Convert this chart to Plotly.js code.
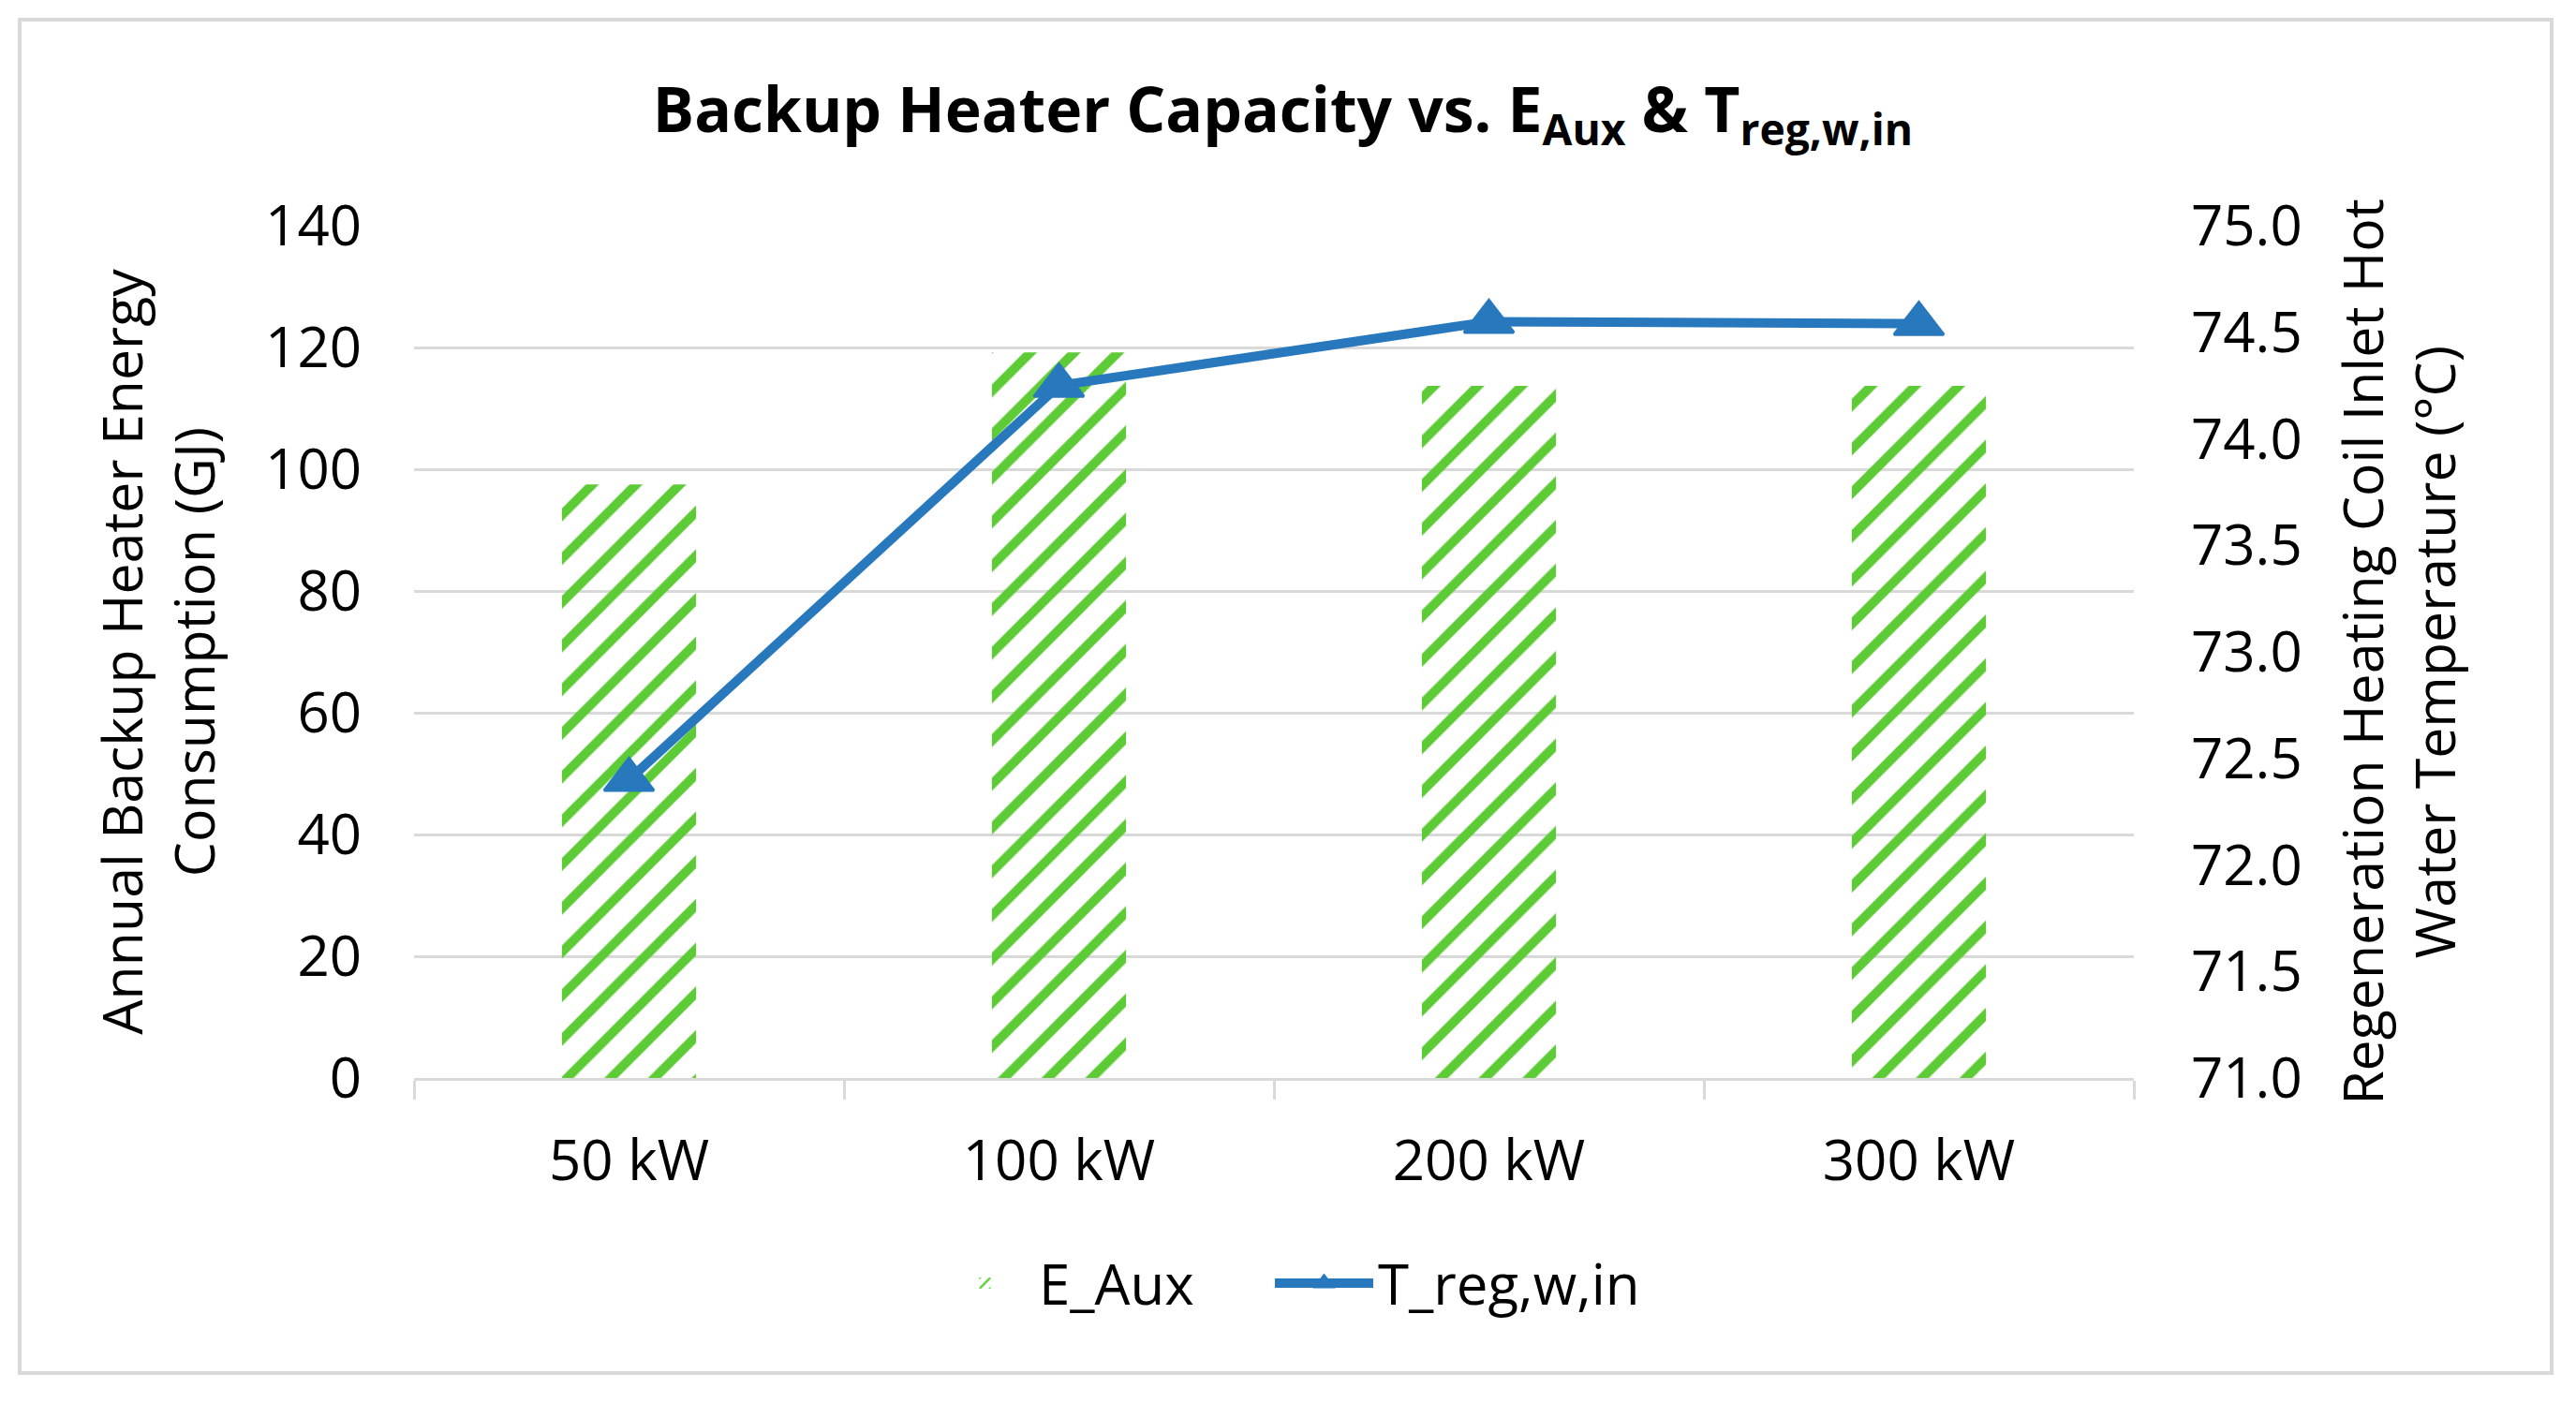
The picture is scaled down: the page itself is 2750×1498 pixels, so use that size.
<!DOCTYPE html>
<html>
<head>
<meta charset="utf-8">
<script src="https://cdn.plot.ly/plotly-3.0.1.min.js"></script>
<style>
  html, body { margin: 0; padding: 0; background: #ffffff; }
  #chart { width: 2750px; height: 1498px; }
</style>
</head>
<body>
<div id="chart"></div>
<script>
// ---- data ----
const categories = ['50 kW', '100 kW', '200 kW', '300 kW'];
const eAuxGJ = [97.5, 119.2, 113.7, 113.7];          // Annual backup heater energy (GJ), left axis
const tRegWIn = [72.40, 74.25, 74.55, 74.54];        // Regeneration coil inlet hot water temp (°C), right axis
const seriesNames = ['E_Aux', 'T_reg,w,in'];

// ---- styling ----
const FONT = 'Open Sans, Lato, Liberation Sans, sans-serif';
const GREEN = '#5CCB35';
const BLUE = '#2878BE';
const GRID = '#D9D9D9';

const W = 2750, H = 1498;
const plotL = 442, plotR = 2278, plotT = 241, plotB = 1151;
const pw = plotR - plotL, ph = plotB - plotT;
const px = v => (v - plotL) / pw;
const py = v => (plotB - v) / ph;

const traces = [
  {
    type: 'bar',
    name: seriesNames[0],
    x: categories,
    y: eAuxGJ,
    yaxis: 'y',
    legend: 'legend',
    marker: {
      color: GREEN,
      line: { width: 0 },
      pattern: { shape: '/', size: 33, solidity: 0.3, fgcolor: GREEN, bgcolor: 'rgba(255,255,255,0)' }
    },
    hoverinfo: 'x+y'
  },
  {
    type: 'scatter',
    mode: 'lines+markers',
    name: seriesNames[1],
    x: categories,
    y: tRegWIn,
    yaxis: 'y2',
    legend: 'legend2',
    line: { color: BLUE, width: 10 },
    marker: { symbol: 'triangle-up', size: 46, color: BLUE, line: { color: BLUE, width: 3 } }
  }
];

const legendCommon = {
  orientation: 'h',
  xanchor: 'left',
  y: py(1370), yanchor: 'middle',
  font: { family: FONT, size: 60, color: '#000000' },
  itemwidth: 105,
  bgcolor: 'rgba(255,255,255,0)'
};

const layout = {
  width: W,
  height: H,
  paper_bgcolor: '#ffffff',
  plot_bgcolor: '#ffffff',
  font: { family: FONT, size: 60, color: '#000000' },
  margin: { l: plotL, r: W - plotR, t: plotT, b: H - plotB, autoexpand: false },
  title: {
    text: 'Backup Heater Capacity vs. E<sub>Aux</sub> &amp; T<sub>reg,w,in</sub>',
    font: { family: FONT, size: 66, color: '#000000', weight: 'bold' },
    x: 0.498, xanchor: 'center', xref: 'container',
    y: 1 - 118 / H, yanchor: 'middle', yref: 'container'
  },
  bargap: 0.688,
  showlegend: true,
  legend: Object.assign({}, legendCommon, { x: px(994) }),
  legend2: Object.assign({}, legendCommon, { x: px(1356) }),
  xaxis: {
    type: 'category',
    showline: true, linecolor: GRID, linewidth: 3,
    ticks: 'outside', tickson: 'boundaries', ticklen: 20, tickcolor: GRID, tickwidth: 3,
    showgrid: false, zeroline: false,
    tickfont: { family: FONT, size: 60, color: '#000000' },
    ticklabelstandoff: 34
  },
  yaxis: {
    range: [0, 140], dtick: 20, tick0: 0,
    showgrid: true, gridcolor: GRID, gridwidth: 3,
    zeroline: false, showline: false, ticks: '',
    tickfont: { family: FONT, size: 60, color: '#000000' },
    ticklabelstandoff: 55,
    title: {
      text: 'Annual Backup Heater Energy<br>Consumption (GJ)',
      font: { family: FONT, size: 59, color: '#000000' },
      standoff: 34
    }
  },
  yaxis2: {
    overlaying: 'y', side: 'right',
    range: [71, 75], dtick: 0.5, tick0: 71, tickformat: '.1f',
    showgrid: false, zeroline: false, showline: false, ticks: '',
    tickfont: { family: FONT, size: 60, color: '#000000' },
    ticklabelstandoff: 60,
    title: {
      text: 'Regeneration Heating Coil Inlet Hot<br>Water Temperature (°C)',
      font: { family: FONT, size: 59, color: '#000000' },
      standoff: 46
    }
  },
  shapes: [
    {
      type: 'rect', xref: 'paper', yref: 'paper', layer: 'below',
      x0: px(21), x1: px(2724), y0: py(1466), y1: py(21),
      line: { color: GRID, width: 4 }, fillcolor: 'rgba(0,0,0,0)'
    }
  ]
};

Plotly.newPlot('chart', traces, layout, { displayModeBar: false, staticPlot: true });
</script>
</body>
</html>
